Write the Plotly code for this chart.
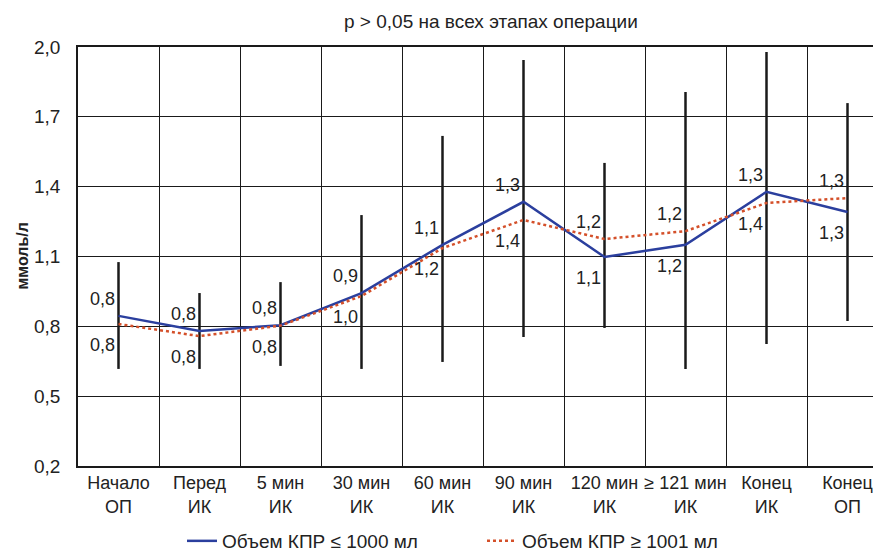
import plotly.graph_objects as go

categories = ["Начало<br>ОП", "Перед<br>ИК", "5 мин<br>ИК", "30 мин<br>ИК", "60 мин<br>ИК",
              "90 мин<br>ИК", "120 мин<br>ИК", "≥ 121 мин<br>ИК", "Конец<br>ИК", "Конец<br>ОП"]
series1_name = "Объем КПР ≤ 1000 мл"
series2_name = "Объем КПР ≥ 1001 мл"
series1 = [0.845, 0.780, 0.805, 0.943, 1.150, 1.335, 1.098, 1.150, 1.378, 1.291]
series2 = [0.810, 0.758, 0.803, 0.930, 1.136, 1.257, 1.175, 1.209, 1.330, 1.351]
range_low = [0.617, 0.617, 0.630, 0.617, 0.647, 0.754, 0.793, 0.617, 0.724, 0.823]
range_high = [1.076, 0.943, 0.990, 1.278, 1.618, 1.944, 1.502, 1.807, 1.978, 1.759]
upper_labels = ["0,8", "0,8", "0,8", "0,9", "1,1", "1,3", "1,2", "1,2", "1,3", "1,3"]
lower_labels = ["0,8", "0,8", "0,8", "1,0", "1,2", "1,4", "1,1", "1,2", "1,4", "1,3"]
y_ticks = [0.2, 0.5, 0.8, 1.1, 1.4, 1.7, 2.0]
title_text = "p > 0,05 на всех этапах операции"
y_title = "ммоль/л"

FONT = "Liberation Sans, Arial, sans-serif"
TXT = "#222"

# page body has an 8px default margin; figure is sized to fill the rest of the window
W, H = 873, 543
ML, MT, MB = 70, 39, 85
PW = W - ML
PH = H - MT - MB

fig = go.Figure()

# vertical range bars
ex, ey = [], []
for c, lo, hi in zip(categories, range_low, range_high):
    ex += [c, c, None]
    ey += [lo, hi, None]
fig.add_trace(go.Scatter(x=ex, y=ey, mode="lines", line=dict(color="#1a1a1a", width=2.5),
                         showlegend=False, hoverinfo="skip"))

fig.add_trace(go.Scatter(x=categories, y=series1, mode="lines", name=series1_name,
                         line=dict(color="#2B3F9E", width=2.5)))
fig.add_trace(go.Scatter(x=categories, y=series2, mode="lines", name=series2_name,
                         line=dict(color="#D4502A", width=2.5, dash="dot")))

annotations = []
for c, s1, s2, up, lo in zip(categories, series1, series2, upper_labels, lower_labels):
    annotations.append(dict(x=c, y=max(s1, s2), text=up, showarrow=False, xshift=-16, yshift=17,
                            xanchor="center", yanchor="middle",
                            font=dict(size=18, color=TXT, family=FONT)))
    annotations.append(dict(x=c, y=min(s1, s2), text=lo, showarrow=False, xshift=-16, yshift=-21,
                            xanchor="center", yanchor="middle",
                            font=dict(size=18, color=TXT, family=FONT)))
annotations.append(dict(xref="paper", yref="paper", x=-56 / PW, y=0.5, text=f"<b>{y_title}</b>",
                        textangle=-90, showarrow=False, xanchor="center", yanchor="middle",
                        font=dict(size=16, color=TXT, family=FONT)))
annotations.append(dict(xref="paper", yref="paper", x=413 / PW, y=1 + 25 / PH, text=title_text,
                        showarrow=False, xanchor="center", yanchor="middle",
                        font=dict(size=19, color=TXT, family=FONT)))

fig.update_layout(
    width=W, height=H,
    margin=dict(l=ML, r=0, t=MT, b=MB, autoexpand=False),
    paper_bgcolor="white", plot_bgcolor="white",
    separators=", ",
    font=dict(family=FONT, size=19, color=TXT),
    showlegend=True,
    legend=dict(orientation="h", x=404 / PW, xanchor="center", y=-75 / PH, yanchor="middle",
                font=dict(size=19, family=FONT, color=TXT), entrywidth=255),
    annotations=annotations,
)
fig.update_xaxes(type="category", range=[-0.5, -0.5 + PW / 81], tickson="boundaries",
                 showgrid=True, gridcolor="#1a1a1a", gridwidth=1.3, automargin=False,
                 showline=True, linecolor="#1a1a1a", linewidth=1.5, mirror=True,
                 ticks="", tickangle=0, tickfont=dict(size=18, family=FONT, color=TXT))
fig.update_yaxes(range=[0.2, 2.0], tickvals=y_ticks, tickformat=".1f", automargin=False,
                 showgrid=True, gridcolor="#1a1a1a", gridwidth=1.3,
                 showline=True, linecolor="#1a1a1a", linewidth=1.5, mirror=True,
                 zeroline=False, ticks="", ticklabelstandoff=12,
                 tickfont=dict(size=19, family=FONT, color=TXT))

fig.write_html("out.html")
